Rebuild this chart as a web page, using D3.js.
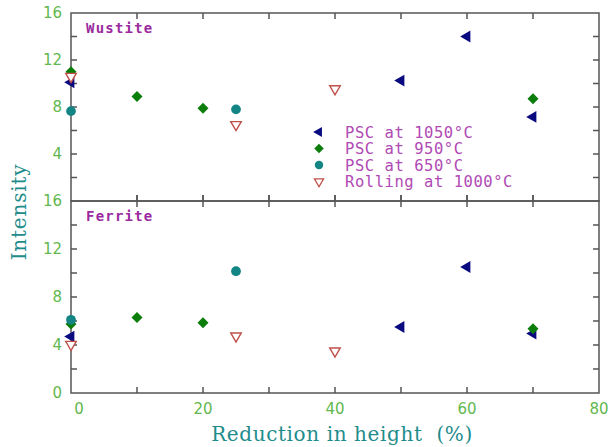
<!DOCTYPE html>
<html>
<head>
<meta charset="utf-8">
<script src="https://cdn.jsdelivr.net/npm/d3@7"></script>
<style>
  body { margin: 0; background: #fff; }
</style>
</head>
<body>
<svg width="612" height="447"></svg>
<script>
// data
var xTicks = [0, 20, 40, 60, 80];
var yTicks = [0, 4, 8, 12, 16];
var seriesNames = ["PSC at 1050\u00B0C", "PSC at 950\u00B0C", "PSC at 650\u00B0C", "Rolling at 1000\u00B0C"];

var wustite1050 = [[0, 10.1], [50, 10.25], [60, 14.0], [70, 7.15]];
var wustite950  = [[0, 11.0], [10, 8.9], [20, 7.9], [70, 8.7]];
var wustite650  = [[0, 7.65], [25, 7.8]];
var wustiteRoll = [[0, 10.6], [25, 6.5], [40, 9.55]];

var ferrite1050 = [[0, 4.7], [50, 5.5], [60, 10.5], [70, 4.95]];
var ferrite950  = [[0, 5.75], [10, 6.3], [20, 5.85], [70, 5.35]];
var ferrite650  = [[0, 6.1], [25, 10.15]];
var ferriteRoll = [[0, 4.05], [25, 4.75], [40, 3.5]];

var svg = d3.select("svg");
var pLeft = 71, pRight = 599, pTop = 13, pMid = 201, pBottom = 393;
var sans = "'DejaVu Sans', sans-serif";
var mono = "'DejaVu Sans Mono', monospace";
var serif = "'DejaVu Serif', serif";

var scX = d3.scaleLinear().domain([0, 80]).range([pLeft, pRight]);
var scYTop = d3.scaleLinear().domain([0, 16]).range([pMid, pTop]);
var scYBot = d3.scaleLinear().domain([0, 16]).range([pBottom, pMid]);

var styles = [
  { sym: d3.symbolTriangle, rot: -90, fill: "#0a0a80", stroke: "none", size: 60 },
  { sym: d3.symbolSquare, rot: 45, fill: "#0a7d0a", stroke: "none", size: 60 },
  { sym: d3.symbolCircle, rot: 0, fill: "#138585", stroke: "none", size: 75 },
  { sym: d3.symbolTriangle, rot: 180, fill: "#fff", stroke: "#c0504a", size: 48 }
];

function symPath(st, size) {
  return d3.symbol().type(st.sym).size(size)();
}

function drawPanel(scY, sets, label, isTop) {
  var g = svg.append("g");
  var axisCol = "#555";

  // ticks on left and right, every 2 units
  var minor = d3.range(2, 16, 2);
  g.selectAll(".yl").data(minor).enter().append("line")
    .attr("x1", pLeft).attr("x2", pLeft + 6)
    .attr("y1", d => scY(d)).attr("y2", d => scY(d))
    .attr("stroke", axisCol).attr("stroke-width", 1.5);
  g.selectAll(".yr").data(minor).enter().append("line")
    .attr("x1", pRight).attr("x2", pRight - 6)
    .attr("y1", d => scY(d)).attr("y2", d => scY(d))
    .attr("stroke", axisCol).attr("stroke-width", 1.5);

  // x ticks at top and bottom edges, pointing in
  var xt = d3.range(10, 80, 10);
  var y0 = scY(0), y16 = scY(16);
  g.selectAll(".xb").data(xt).enter().append("line")
    .attr("x1", d => scX(d)).attr("x2", d => scX(d))
    .attr("y1", y0).attr("y2", y0 - 6)
    .attr("stroke", axisCol).attr("stroke-width", 1.5);
  g.selectAll(".xt").data(xt).enter().append("line")
    .attr("x1", d => scX(d)).attr("x2", d => scX(d))
    .attr("y1", y16).attr("y2", y16 + 6)
    .attr("stroke", axisCol).attr("stroke-width", 1.5);

  g.append("rect")
    .attr("x", pLeft).attr("y", y16)
    .attr("width", pRight - pLeft).attr("height", y0 - y16)
    .attr("fill", "none").attr("stroke", axisCol).attr("stroke-width", 1.5);

  // y tick labels
  var ylab = isTop ? yTicks.filter(d => d > 0) : yTicks;
  g.selectAll(".ytl").data(ylab).enter().append("text")
    .attr("x", pLeft - 9).attr("y", d => scY(d))
    .attr("dy", "0.36em").attr("text-anchor", "end")
    .style("font-family", sans)
    .attr("font-size", 15).attr("fill", "#62b84e")
    .text(d => d);

  g.append("text")
    .attr("x", 86).attr("y", y16 + 19.5)
    .style("font-family", mono).style("letter-spacing", "1.2px")
    .attr("font-weight", "bold")
    .attr("font-size", 14).attr("fill", "#9a2a9e")
    .text(label);

  sets.forEach(function (data, i) {
    var st = styles[i];
    g.append("g").selectAll("path")
      .data(data).enter().append("path")
      .attr("d", symPath(st, st.size))
      .attr("transform", d => "translate(" + scX(d[0]) + "," + scY(d[1]) + ") rotate(" + st.rot + ")")
      .attr("fill", st.fill).attr("stroke", st.stroke).attr("stroke-width", 1.4);
  });
}

drawPanel(scYTop, [wustite1050, wustite950, wustite650, wustiteRoll], "Wustite", true);
drawPanel(scYBot, [ferrite1050, ferrite950, ferrite650, ferriteRoll], "Ferrite", false);

// crossing ticks on the divider
svg.selectAll(".mt").data(d3.range(10, 80, 10)).enter().append("line")
  .attr("x1", d => scX(d)).attr("x2", d => scX(d))
  .attr("y1", pMid - 6).attr("y2", pMid)
  .attr("stroke", "#555").attr("stroke-width", 1.5);

// x tick labels
svg.selectAll(".xtl").data(xTicks).enter().append("text")
  .attr("x", d => scX(d) + (d === 0 ? 8 : 0)).attr("y", pBottom + 21)
  .attr("text-anchor", "middle")
  .style("font-family", sans)
  .attr("font-size", 15).attr("fill", "#62b84e")
  .text(d => d);

// axis titles
svg.append("text")
  .attr("x", 342).attr("y", 441)
  .attr("text-anchor", "middle")
  .style("font-family", serif).style("white-space", "pre").style("letter-spacing", "0.6px")
  .attr("font-size", 20).attr("fill", "#1f8c8c")
  .text("Reduction in height  (%)");

svg.append("text")
  .attr("transform", "translate(26,212) rotate(-90)")
  .attr("text-anchor", "middle")
  .style("font-family", serif).style("letter-spacing", "0.8px")
  .attr("font-size", 20).attr("fill", "#1f8c8c")
  .text("Intensity");

// legend
var leg = svg.append("g").attr("transform", "translate(319,132)");
seriesNames.forEach(function (name, i) {
  var st = styles[i];
  var row = leg.append("g").attr("transform", "translate(0," + (i * 16.5) + ")");
  row.append("path")
    .attr("d", symPath(st, st.size * 0.75))
    .attr("transform", "rotate(" + st.rot + ")")
    .attr("fill", st.fill).attr("stroke", st.stroke).attr("stroke-width", 1.3);
  row.append("text")
    .attr("x", 26).attr("dy", "0.36em")
    .style("font-family", mono).style("letter-spacing", "0.55px")
    .attr("font-size", 15.5).attr("fill", "#b04ab4")
    .text(name);
});
</script>
</body>
</html>
